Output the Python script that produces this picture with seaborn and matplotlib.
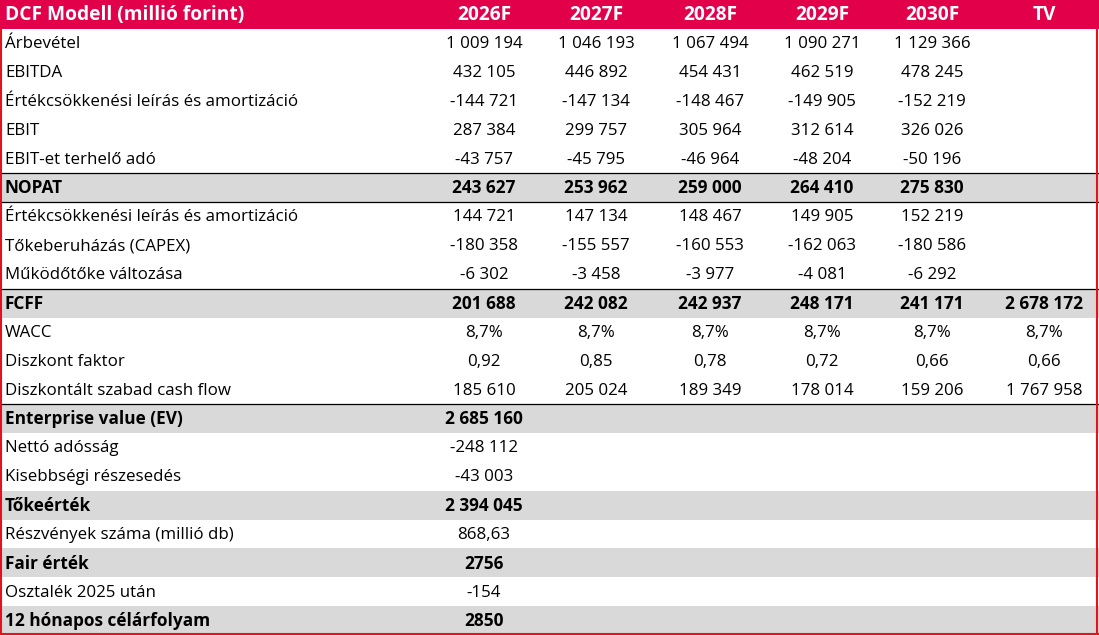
import numpy as np
import matplotlib
matplotlib.use("Agg")
import matplotlib.pyplot as plt
import matplotlib.transforms as mtransforms
from matplotlib.colors import ListedColormap
import seaborn as sns

sns.set_theme(style="white")
plt.rcParams['font.family'] = ['Open Sans', 'DejaVu Sans']

# Adatok (millió forint)
cim = "DCF Modell (millió forint)"
evek = ['2026F', '2027F', '2028F', '2029F', '2030F', 'TV']

arbevetel = [1009194, 1046193, 1067494, 1090271, 1129366]
ebitda = [432105, 446892, 454431, 462519, 478245]
amortizacio = [-144721, -147134, -148467, -149905, -152219]
ebit = [287384, 299757, 305964, 312614, 326026]
ado = [-43757, -45795, -46964, -48204, -50196]
nopat = [243627, 253962, 259000, 264410, 275830]
amortizacio_vissza = [144721, 147134, 148467, 149905, 152219]
capex = [-180358, -155557, -160553, -162063, -180586]
mukodotoke = [-6302, -3458, -3977, -4081, -6292]
fcff = [201688, 242082, 242937, 248171, 241171, 2678172]
wacc = [8.7, 8.7, 8.7, 8.7, 8.7, 8.7]
diszkont_faktor = [0.92, 0.85, 0.78, 0.72, 0.66, 0.66]
diszkontalt_cf = [185610, 205024, 189349, 178014, 159206, 1767958]
enterprise_value = [2685160]
netto_adossag = [-248112]
kisebbsegi = [-43003]
tokeertek = [2394045]
reszvenyszam = [868.63]
fair_ertek = [2756]
osztalek = [-154]
celarfolyam = [2850]


def szam(v):
    # magyar formátum: szóköz ezres elválasztó
    return f"{v:,}".replace(',', ' ')


def sima(v):
    return str(v)


def szazalek(v):
    return f"{v:.1f}%".replace('.', ',')


def tizedes(v):
    return f"{v:.2f}".replace('.', ',')


# (címke, értékek, formázó, kiemelt sor)
sorok = [
    ("Árbevétel", arbevetel, szam, False),
    ("EBITDA", ebitda, szam, False),
    ("Értékcsökkenési leírás és amortizáció", amortizacio, szam, False),
    ("EBIT", ebit, szam, False),
    ("EBIT-et terhelő adó", ado, szam, False),
    ("NOPAT", nopat, szam, True),
    ("Értékcsökkenési leírás és amortizáció", amortizacio_vissza, szam, False),
    ("Tőkeberuházás (CAPEX)", capex, szam, False),
    ("Működőtőke változása", mukodotoke, szam, False),
    ("FCFF", fcff, szam, True),
    ("WACC", wacc, szazalek, False),
    ("Diszkont faktor", diszkont_faktor, tizedes, False),
    ("Diszkontált szabad cash flow", diszkontalt_cf, szam, False),
    ("Enterprise value (EV)", enterprise_value, szam, True),
    ("Nettó adósság", netto_adossag, szam, False),
    ("Kisebbségi részesedés", kisebbsegi, szam, False),
    ("Tőkeérték", tokeertek, szam, True),
    ("Részvények száma (millió db)", reszvenyszam, tizedes, False),
    ("Fair érték", fair_ertek, sima, True),
    ("Osztalék 2025 után", osztalek, sima, False),
    ("12 hónapos célárfolyam", celarfolyam, sima, True),
]

W, H = 1099, 635
fig = plt.figure(figsize=(W / 100, H / 100), dpi=100)
ax = fig.add_axes([0, 0, 1, 1])

# sor háttér: 0 fehér, 1 szürke, 2 fejléc
arnyek = np.array([[2]] + [[1 if s[3] else 0] for s in sorok])
cmap = ListedColormap(['#FFFFFF', '#D9D9D9', '#E2004B'])
sns.heatmap(arnyek, cmap=cmap, vmin=-0.5, vmax=2.5, cbar=False,
            xticklabels=False, yticklabels=False, ax=ax)
ax.set_xlim(0, 1)
ax.set_ylim(len(arnyek), 0)
for s in ax.spines.values():
    s.set_visible(False)

tr = mtransforms.blended_transform_factory(ax.transAxes, ax.transData)
oszlop_x = [484, 596, 710, 822, 932, 1044]

# fejléc
ax.text(5 / W, 0.52, cim, transform=tr, ha='left', va='center',
        fontsize=13.8, fontweight='bold', color='white')
for x, ev in zip(oszlop_x, evek):
    ax.text(x / W, 0.52, ev, transform=tr, ha='center', va='center',
            fontsize=13.8, fontweight='bold', color='white')

for i, (cimke, ertekek, fmt, kiemelt) in enumerate(sorok, start=1):
    w = 'bold' if kiemelt else 'normal'
    meret = 12.4 if kiemelt else 12.2
    ax.text(5 / W, i + 0.53, cimke, transform=tr, ha='left', va='center',
            fontsize=meret, fontweight=w, color='black')
    for x, v in zip(oszlop_x, ertekek):
        ax.text(x / W, i + 0.53, fmt(v), transform=tr, ha='center', va='center',
                fontsize=meret, fontweight=w, color='black')

# fekete elválasztó vonalak
for y in [6, 7, 10, 14]:
    ax.axhline(y, color='black', lw=0.9)

# piros keret
piros = '#E3131B'
ax.plot([1 / W, 1 / W], [1, len(arnyek)], color=piros, lw=1.5, transform=tr, clip_on=False)
ax.plot([1097 / W, 1097 / W], [1, len(arnyek)], color=piros, lw=1.5, transform=tr, clip_on=False)
ax.plot([0, 1], [len(arnyek) - 0.03, len(arnyek) - 0.03], color=piros, lw=1.5, transform=tr, clip_on=False)

fig.savefig("out.png", dpi=100)
